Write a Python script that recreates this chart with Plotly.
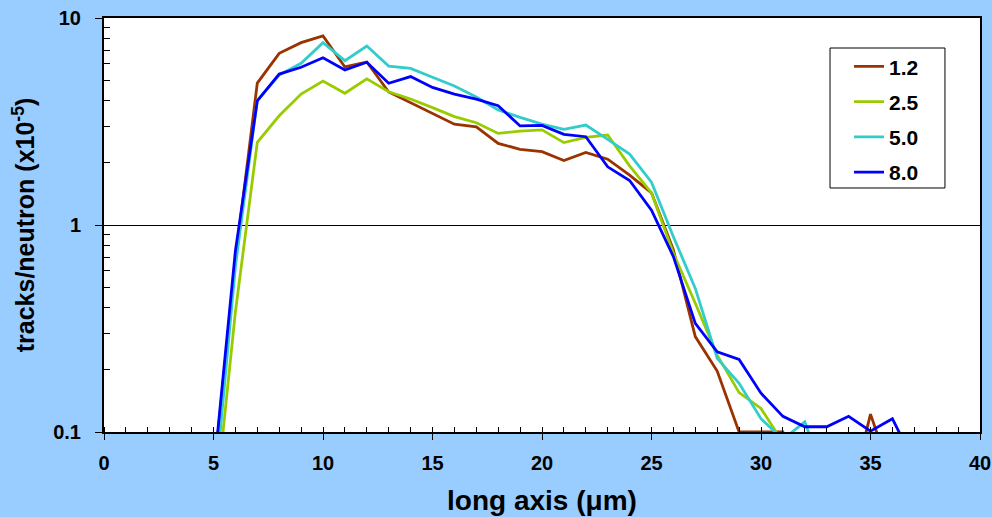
import plotly.graph_objects as go

x_um = list(range(5, 38))

s_1_2 = [0.06, 0.68, 4.85, 6.75, 7.6, 8.2, 5.8, 6.13, 4.39, 3.9, 3.44, 3.07, 2.98, 2.48, 2.32, 2.26,
         2.05, 2.24, 2.08, 1.74, 1.43, 0.757, 0.289, 0.197, 0.1, 0.1, 0.1, 0.06, 0.05, 0.045, 0.122, 0.06, 0.04]
s_2_5 = [0.036, 0.38, 2.51, 3.37, 4.29, 4.96, 4.33, 5.08, 4.4, 4.06, 3.69, 3.34, 3.12, 2.77, 2.84, 2.88,
         2.5, 2.65, 2.72, 1.93, 1.43, 0.73, 0.419, 0.235, 0.155, 0.13, 0.089, 0.06, 0.05, 0.05, 0.05, 0.05, 0.05]
s_5_0 = [0.045, 0.63, 4.0, 5.3, 6.04, 7.6, 6.22, 7.32, 5.86, 5.71, 5.17, 4.69, 4.15, 3.6, 3.31, 3.07,
         2.9, 3.04, 2.59, 2.2, 1.61, 0.878, 0.494, 0.227, 0.172, 0.116, 0.092, 0.112, 0.057, 0.05, 0.05, 0.05, 0.05]
s_8_0 = [0.062, 0.75, 3.98, 5.36, 5.78, 6.43, 5.61, 6.11, 4.84, 5.21, 4.62, 4.29, 4.06, 3.77, 3.01, 3.03,
         2.74, 2.67, 1.91, 1.64, 1.18, 0.703, 0.335, 0.244, 0.224, 0.154, 0.119, 0.106, 0.106, 0.119, 0.101, 0.116, 0.071]

series_names = ["1.2", "2.5", "5.0", "8.0"]
series_values = [s_1_2, s_2_5, s_5_0, s_8_0]
series_colors = ["#993300", "#99CC00", "#33CCCC", "#0000FF"]

x_ticks = [0, 5, 10, 15, 20, 25, 30, 35, 40]
y_ticks = [0.1, 1, 10]
y_tick_text = ["0.1", "1", "10"]
y_minor = [k * 0.1 for k in range(2, 10)] + [float(k) for k in range(2, 10)]

FONT = "Liberation Sans, Arial, sans-serif"

fig = go.Figure()
for i, (name, vals, col) in enumerate(zip(series_names, series_values, series_colors)):
    fig.add_trace(go.Scatter(
        x=x_um, y=vals, name=name, mode="lines",
        line=dict(color=col, width=2.8),
        legendgroup="g%d" % i,
    ))

# legend frame (box drawn around the legend entries)
fig.add_shape(type="rect", xref="paper", yref="paper",
              x0=0.8288, x1=0.960, y0=0.5894, y1=0.9275,
              line=dict(color="#000000", width=1), fillcolor="rgba(0,0,0,0)", layer="above")

fig.update_layout(
    width=992, height=517,
    paper_bgcolor="#99CCFF",
    plot_bgcolor="#FFFFFF",
    margin=dict(l=104, r=12, t=18, b=85, autoexpand=False),
    font=dict(family=FONT, size=18, color="#000000", weight=700),
    showlegend=True,
    legend=dict(
        x=0.8505, y=0.932, xanchor="left", yanchor="top",
        bgcolor="rgba(0,0,0,0)", borderwidth=0,
        font=dict(family=FONT, size=21, color="#000000", weight=700),
        tracegroupgap=5,
        itemwidth=30,
    ),
)

fig.update_xaxes(
    range=[0, 40], automargin=False,
    tickmode="array", tickvals=x_ticks,
    ticks="outside", ticklen=6, tickcolor="#000000", tickwidth=1,
    ticklabelstandoff=6,
    tickfont=dict(family=FONT, size=20, color="#000000", weight=700),
    showline=True, linecolor="#000000", linewidth=2, mirror=True,
    showgrid=False, zeroline=False,
    minor=dict(dtick=1, ticks="inside", ticklen=5, tickcolor="#000000", tickwidth=1, showgrid=False),
    title=dict(text="long axis (μm)", standoff=17,
               font=dict(family=FONT, size=28, color="#000000", weight=700)),
)

fig.update_yaxes(
    type="log", range=[-1, 1], automargin=False,
    tickmode="array", tickvals=y_ticks, ticktext=y_tick_text,
    ticks="outside", ticklen=7, tickcolor="#000000", tickwidth=1,
    ticklabelstandoff=10,
    tickfont=dict(family=FONT, size=20, color="#000000", weight=700),
    showline=True, linecolor="#000000", linewidth=2, mirror=True,
    showgrid=True, gridcolor="#000000", gridwidth=1,
    zeroline=False,
    minor=dict(tickmode="array", tickvals=y_minor, ticks="inside", ticklen=6,
               tickcolor="#000000", tickwidth=1, showgrid=False),
    title=dict(text="tracks/neutron (x10<sup>-5</sup>)", standoff=11,
               font=dict(family=FONT, size=25, color="#000000", weight=700)),
)

fig.write_html("out.html")
